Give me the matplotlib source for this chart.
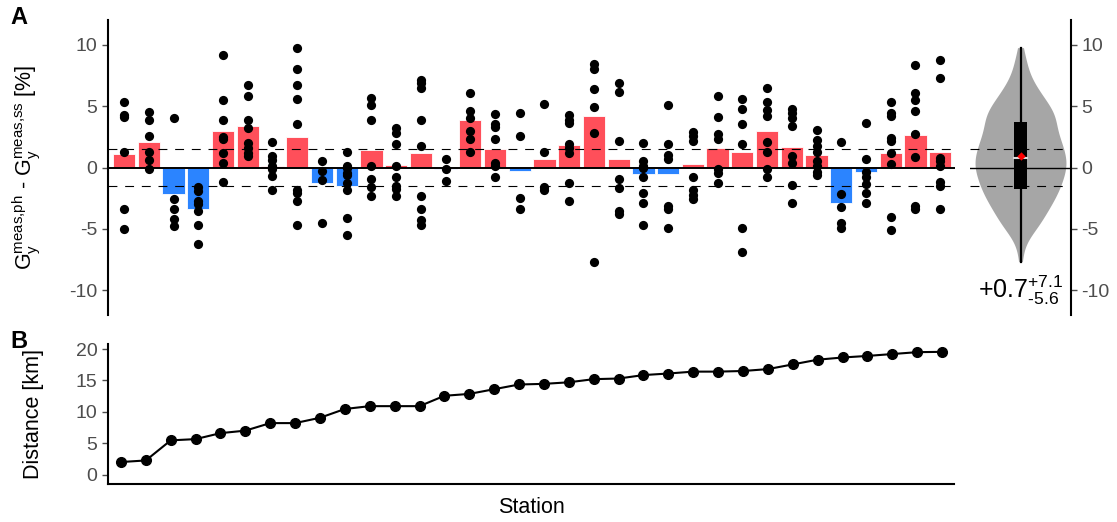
import numpy as np
import matplotlib
matplotlib.use("Agg")
import matplotlib.pyplot as plt

plt.rcParams['font.family'] = ['Liberation Sans', 'DejaVu Sans']
plt.rcParams['mathtext.fontset'] = 'custom'
plt.rcParams['mathtext.rm'] = 'Liberation Sans'
plt.rcParams['mathtext.it'] = 'Liberation Sans:italic'
plt.rcParams['mathtext.bf'] = 'Liberation Sans:bold'
plt.rcParams['axes.unicode_minus'] = False

# --- data ---
stations = np.arange(1, 35)

bar_values = [1.1, 2.1, -2.15, -3.4, 2.95, 3.4, 0.15, 2.45, -1.3, -1.5,
              1.4, 0.2, 1.2, -0.15, 3.85, 1.5, -0.25, 0.7, 1.8, 4.2,
              0.7, -0.55, -0.55, 0.3, 1.6, 1.25, 3.0, 1.65, 1.05, -2.85,
              -0.35, 1.2, 2.65, 1.3]

station_points = [
    [5.3, 4.3, 4.1, 1.3, -3.4, -5.0],
    [4.55, 3.9, 2.6, 1.3, 0.65, -0.1],
    [4.0, -2.6, -3.4, -4.2, -4.75],
    [-1.6, -1.9, -2.7, -2.95, -3.55, -4.7, -6.25],
    [9.15, 5.5, 3.9, 2.45, 2.3, 1.2, 0.4, -1.15],
    [6.7, 5.8, 3.85, 3.25, 2.0, 1.6, 1.2, 0.95],
    [2.05, 0.9, 0.65, 0.15, -0.15, -0.7, -1.85],
    [9.75, 8.0, 6.7, 5.6, 3.55, -1.85, -2.1, -2.75, -4.65],
    [0.5, -0.25, -1.05, -4.5],
    [1.3, 0.15, -0.05, -0.45, -0.65, -1.25, -1.8, -4.1, -5.5],
    [5.65, 5.05, 3.85, 0.15, -0.9, -1.55, -2.3],
    [3.25, 2.8, 1.9, 0.15, -0.75, -1.5, -1.75, -2.3],
    [7.1, 6.85, 6.45, 3.9, 1.75, -2.35, -3.35, -4.3, -4.65],
    [0.7, -0.1, -1.1],
    [6.05, 4.6, 4.0, 2.95, 2.35, 1.3],
    [4.35, 3.55, 3.3, 2.35, 0.35, 0.1, -0.8],
    [4.45, 2.6, -2.45, -3.4],
    [5.2, 1.25, -1.6, -1.85],
    [4.25, 3.9, 3.6, 1.95, 1.6, 1.2, -1.3, -2.7],
    [8.45, 8.05, 6.4, 4.9, 2.8, -7.65],
    [6.9, 6.15, 2.15, -0.9, -1.7, -3.55, -3.8],
    [2.0, 0.5, 0.15, -0.05, -0.75, -2.05, -2.85, -4.65],
    [5.1, 1.95, 1.05, 0.7, -3.15, -3.35, -4.9],
    [2.9, 2.55, 2.15, -0.75, -1.85, -2.25, -2.6],
    [5.85, 4.1, 2.7, 2.35, -0.1, -0.45, -1.3],
    [5.55, 4.75, 3.5, 1.95, -4.9, -6.9],
    [6.5, 5.3, 4.7, 4.2, 2.05, 1.25, -0.15, -0.8],
    [4.75, 4.4, 4.05, 3.35, 0.9, 0.4, -1.45, -2.85],
    [3.05, 2.2, 1.75, 1.3, 0.5, 0.1, -0.35, -0.6],
    [2.1, -2.15, -3.2, -4.5, -4.9],
    [3.65, 0.7, -0.35, -0.75, -1.35, -2.05, -2.85],
    [5.3, 4.45, 4.2, 2.4, 2.15, 1.2, 0.3, -4.05, -5.1],
    [8.3, 6.05, 5.5, 4.6, 2.7, 0.85, -3.15, -3.4],
    [8.75, 7.3, 0.75, 0.5, 0.15, -1.15, -1.5, -3.4],
]

distance_km = [2.0, 2.25, 5.45, 5.65, 6.6, 7.0, 8.2, 8.2, 9.05, 10.45,
               10.9, 10.9, 10.9, 12.55, 12.85, 13.6, 14.35, 14.45, 14.7, 15.2,
               15.3, 15.85, 16.1, 16.4, 16.4, 16.5, 16.8, 17.55, 18.3, 18.65,
               18.9, 19.2, 19.5, 19.55]

# summary of all differences (box + mean)
box_q1, box_median, box_q3, box_mean = -1.75, 0.8, 3.7, 0.9
summary_label = r'$\text{+0.7}^{\text{+7.1}}_{\text{-5.6}}$'
tolerance = 1.5

red = '#FF4F5A'
blue = '#2B84FF'
tick_grey = '#4D4D4D'

W, H = 1117, 522
fig = plt.figure(figsize=(W / 100, H / 100), dpi=100)


def fig_rect(x0, y0, x1, y1):
    return [x0 / W, 1 - y1 / H, (x1 - x0) / W, (y1 - y0) / H]


axA = fig.add_axes(fig_rect(108, 20, 955, 315))
axV = fig.add_axes(fig_rect(970, 20, 1071, 315))
axB = fig.add_axes(fig_rect(108, 344, 954, 484))

# --- panel A ---
colors = [red if v >= 0 else blue for v in bar_values]
axA.bar(stations, bar_values, width=0.9, color=colors, edgecolor='white',
        linewidth=0.6, zorder=2)
for s, pts in zip(stations, station_points):
    axA.scatter(np.full(len(pts), s), pts, s=44, color='black', zorder=4,
                linewidths=0)
axA.axhline(0, color='black', lw=1.4, zorder=3)
for y in (tolerance, -tolerance):
    axA.axhline(y, color='black', lw=0.8, ls=(0, (8, 7)), zorder=3)

axA.set_xlim(0.35, 34.6)
axA.set_ylim(-12, 12)
axA.set_yticks([-10, -5, 0, 5, 10])
axA.set_xticks([])
for sp in ('top', 'right', 'bottom'):
    axA.spines[sp].set_visible(False)
axA.spines['left'].set_linewidth(1.5)
axA.tick_params(axis='y', labelsize=14, labelcolor=tick_grey,
                color=tick_grey, length=4, width=1)
axA.set_ylabel(r'$\mathrm{G}_\mathrm{y}^{\text{meas,ph}}$ - '
               r'$\mathrm{G}_\mathrm{y}^{\text{meas,ss}}$ [%]', fontsize=15.5)
axA.yaxis.set_label_coords(-0.077, 0.5)

# --- violin of all differences ---
all_pts = np.concatenate([np.array(p) for p in station_points])
n = len(all_pts)
iqr = np.subtract(*np.percentile(all_pts, [75, 25]))
bw = 0.9 * min(all_pts.std(ddof=1), iqr / 1.34) * n ** -0.2
grid = np.linspace(all_pts.min(), all_pts.max(), 300)
dens = np.exp(-0.5 * ((grid[:, None] - all_pts[None, :]) / bw) ** 2).sum(axis=1)
half = dens / dens.max() * 0.9
axV.fill_betweenx(grid, -half, half, color='#A6A6A6', lw=0, zorder=1)
axV.axhline(0, color='black', lw=1.0, zorder=2)
for y in (tolerance, -tolerance):
    axV.axhline(y, color='black', lw=0.8, ls=(0, (8, 7)), zorder=2)
axV.plot([0, 0], [all_pts.min(), all_pts.max()], color='black', lw=1.6, zorder=3)
axV.fill_between([-0.12, 0.12], box_q1, box_q3, color='black', lw=0, zorder=4)
axV.plot([-0.12, 0.12], [box_median, box_median], color='#D9D9D9', lw=1.5,
         zorder=5)
axV.scatter([0], [box_mean], marker='D', s=18, color='red', zorder=6,
            linewidths=0)
axV.text(0, -10, summary_label, ha='center', va='center', fontsize=18)

axV.set_xlim(-1, 1)
axV.set_ylim(-12, 12)
axV.set_xticks([])
axV.set_yticks([-10, -5, 0, 5, 10])
axV.yaxis.tick_right()
for sp in ('top', 'left', 'bottom'):
    axV.spines[sp].set_visible(False)
axV.spines['right'].set_linewidth(1.5)
axV.tick_params(axis='y', labelsize=14, labelcolor=tick_grey,
                color=tick_grey, length=4, width=1)

# --- panel B ---
axB.plot(stations, distance_km, color='black', lw=1.5, marker='o',
         markersize=7)
axB.set_xlim(0.48, 34.48)
axB.set_ylim(-1.5, 20.8)
axB.set_yticks([0, 5, 10, 15, 20])
axB.set_xticks([])
for sp in ('top', 'right'):
    axB.spines[sp].set_visible(False)
axB.spines['left'].set_linewidth(1.5)
axB.spines['bottom'].set_linewidth(1.5)
axB.tick_params(axis='y', labelsize=14, labelcolor=tick_grey,
                color=tick_grey, length=4, width=1)
axB.set_ylabel('Distance [km]', fontsize=15.5)
axB.yaxis.set_label_coords(-0.076, 0.5)
axB.set_xlabel('Station', fontsize=15.5, va='center')
axB.xaxis.set_label_coords(0.5, -0.17)

fig.text(10 / W, 1 - 18 / H, 'A', fontsize=17, fontweight='bold', va='center')
fig.text(10 / W, 1 - 341 / H, 'B', fontsize=17, fontweight='bold', va='center')

fig.savefig('out.png', dpi=100)
